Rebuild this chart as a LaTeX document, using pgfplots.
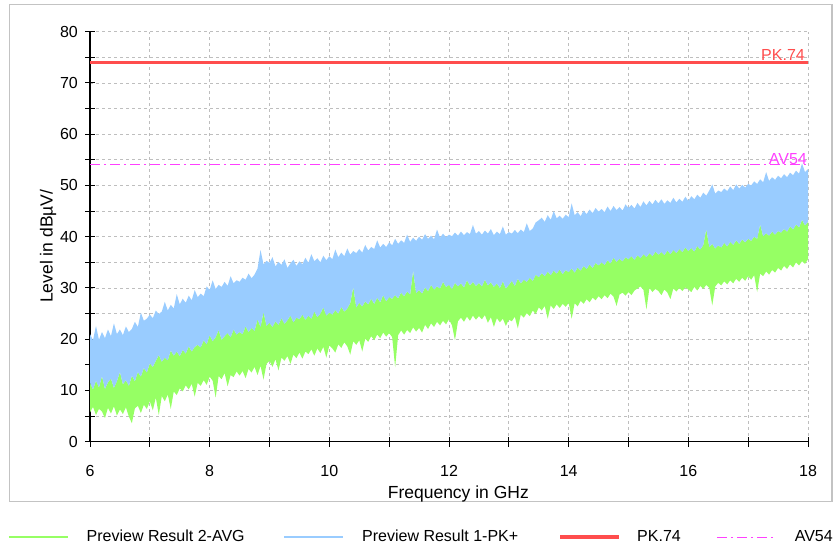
\documentclass[border=0pt]{standalone}
\usepackage{fontspec}
\setmainfont{Liberation Sans}
\usepackage{pgfplots}
\pgfplotsset{compat=1.18}
\usepackage{pgfplotstable}

\definecolor{pkfill}{RGB}{153,204,255}
\definecolor{avfill}{RGB}{150,255,100}
\definecolor{pkline}{RGB}{255,77,77}
\definecolor{avline}{RGB}{255,64,255}
\definecolor{framegray}{RGB}{195,195,195}
\definecolor{gridgray}{RGB}{190,190,190}

% x = frequency (GHz), ph = PK+ upper edge, ah / al = AVG upper / lower edge
\pgfplotstableread{
x     ph    ah    al
6.00  21.0  11.5  5.7
6.05  19.8  10.2  6.8
6.10  22.6  11.9  5.2
6.15  19.9  10.6  6.4
6.20  21.4  12.8  5.9
6.25  20.2  10.3  4.6
6.30  21.9  11.6  6.6
6.35  20.6  12.3  5.5
6.40  23.1  10.5  6.9
6.45  21.0  11.8  5.1
6.50  21.9  13.6  6.3
6.55  20.8  11.2  5.4
6.60  22.5  12.0  6.7
6.65  21.4  10.9  4.9
6.70  22.0  12.9  3.6
6.75  23.4  11.8  6.5
6.80  22.4  13.6  7.0
6.85  25.2  12.7  5.6
6.90  23.6  14.4  7.2
6.95  24.0  13.5  6.4
7.00  24.8  15.3  7.9
7.05  24.1  14.6  6.1
7.10  25.6  15.8  8.6
7.15  24.9  16.9  5.2
7.20  25.4  15.6  8.9
7.25  27.3  16.4  7.9
7.30  25.6  15.9  9.2
7.35  26.7  17.8  6.4
7.40  26.0  16.8  9.8
7.45  28.8  17.6  9.1
7.50  26.8  16.7  10.4
7.55  27.9  17.9  9.8
7.60  27.1  17.2  11.0
7.65  28.5  18.6  10.2
7.70  27.6  17.6  11.3
7.75  29.6  18.5  8.8
7.80  28.2  18.9  11.5
7.85  28.9  18.4  10.9
7.90  28.4  19.8  12.0
7.95  30.3  19.0  11.1
8.00  29.6  20.8  12.7
8.05  31.5  19.6  11.9
8.10  29.8  20.4  8.6
8.15  30.6  21.8  12.8
8.20  30.2  19.9  12.2
8.25  31.2  20.6  13.4
8.30  30.4  21.2  10.8
8.35  32.3  20.4  13.0
8.40  30.9  21.9  12.6
8.45  31.5  20.9  13.7
8.50  31.2  21.4  12.9
8.55  32.0  21.0  13.8
8.60  31.6  22.5  12.4
8.65  32.8  21.4  14.2
8.70  31.9  22.2  13.5
8.75  32.6  21.6  14.6
8.80  33.8  23.9  13.0
8.85  37.4  22.4  14.8
8.90  34.6  25.3  12.1
8.95  35.3  22.6  15.2
9.00  34.9  23.2  15.8
9.05  36.0  22.4  14.6
9.10  34.2  23.5  16.1
9.15  35.1  22.8  13.9
9.20  34.5  24.1  16.4
9.25  35.6  23.0  15.8
9.30  33.9  23.7  16.7
9.35  34.8  24.6  15.2
9.40  35.5  23.3  17.0
9.45  34.3  24.2  16.3
9.50  35.2  23.9  17.4
9.55  34.6  24.8  16.2
9.60  35.9  23.8  17.6
9.65  34.9  24.6  17.1
9.70  36.6  24.0  18.0
9.75  35.2  25.4  16.8
9.80  35.8  24.3  18.2
9.85  35.0  25.0  17.3
9.90  36.3  26.2  18.5
9.95  35.4  24.6  16.4
10.00 36.2  25.2  18.8
10.05 35.6  24.8  18.2
10.10 37.5  25.7  17.4
10.15 36.0  25.0  19.0
10.20 36.9  26.3  18.3
10.25 36.2  25.4  19.4
10.30 37.7  26.0  18.6
10.35 36.5  27.1  17.0
10.40 37.2  30.2  19.6
10.45 36.8  26.2  18.9
10.50 37.6  27.1  19.8
10.55 36.9  26.4  17.6
10.60 38.4  27.4  20.1
10.65 37.3  26.8  19.5
10.70 38.0  27.9  20.6
10.75 37.6  26.9  19.8
10.80 39.3  28.1  20.9
10.85 37.9  27.2  20.2
10.90 38.6  28.6  21.3
10.95 38.0  27.4  20.5
11.00 38.9  28.2  21.2
11.05 38.3  27.9  20.4
11.10 39.6  28.6  14.5
11.15 38.6  28.0  20.8
11.20 39.3  29.1  21.7
11.25 38.8  28.4  20.9
11.30 40.4  29.3  21.8
11.35 39.0  28.7  21.2
11.40 39.8  33.4  22.3
11.45 39.2  29.0  21.5
11.50 40.0  29.6  22.2
11.55 39.4  28.9  21.3
11.60 40.5  30.1  22.8
11.65 39.6  29.4  22.0
11.70 40.2  30.6  23.1
11.75 39.5  29.7  22.4
11.80 41.4  30.3  23.4
11.85 39.8  29.9  22.7
11.90 40.6  31.2  23.6
11.95 39.9  30.2  22.9
12.00 40.4  30.6  23.9
12.05 40.1  29.8  22.7
12.10 40.8  31.0  19.8
12.15 40.2  30.3  23.5
12.20 41.0  30.9  24.2
12.25 40.3  30.1  23.4
12.30 40.9  31.5  24.4
12.35 40.5  30.5  23.6
12.40 42.3  31.2  24.6
12.45 40.6  30.4  23.8
12.50 41.1  31.0  24.5
12.55 40.4  30.3  23.9
12.60 41.2  31.6  24.7
12.65 40.6  30.5  23.2
12.70 41.5  31.1  24.3
12.75 40.3  30.2  22.4
12.80 41.0  30.9  24.1
12.85 40.5  30.0  23.3
12.90 42.0  31.3  24.0
12.95 40.4  29.9  22.6
13.00 40.9  30.6  23.8
13.05 40.6  31.4  23.5
13.10 41.3  30.4  24.4
13.15 40.7  31.8  22.1
13.20 41.4  30.9  24.8
13.25 40.9  31.6  24.2
13.30 42.6  31.2  25.1
13.35 41.1  32.0  24.5
13.40 41.6  31.4  25.6
13.45 42.8  32.6  24.9
13.50 43.2  32.1  26.2
13.55 43.7  32.9  25.6
13.60 42.9  32.3  26.5
13.65 44.2  33.2  24.0
13.70 43.3  32.5  26.6
13.75 45.0  33.4  25.9
13.80 43.6  32.8  26.8
13.85 44.1  33.6  26.1
13.90 43.5  32.7  26.9
13.95 44.3  33.5  26.3
14.00 43.8  33.1  27.1
14.05 46.5  33.8  24.0
14.10 44.2  33.0  27.0
14.15 44.8  34.0  26.4
14.20 44.0  33.4  27.5
14.25 45.1  34.3  26.9
14.30 44.4  33.7  27.8
14.35 45.3  34.6  27.2
14.40 44.6  33.9  28.1
14.45 45.6  34.9  27.6
14.50 44.9  34.4  28.4
14.55 45.4  35.0  27.8
14.60 44.8  34.5  28.6
14.65 45.9  35.4  28.0
14.70 45.0  34.8  28.9
14.75 46.0  35.9  28.3
14.80 45.2  35.1  26.5
14.85 45.8  35.7  28.7
14.90 45.1  35.2  29.1
14.95 46.3  36.0  28.5
15.00 45.6  35.6  29.2
15.05 46.2  36.2  28.6
15.10 45.5  35.5  29.5
15.15 46.6  36.4  29.9
15.20 45.8  35.8  30.3
15.25 46.9  36.6  29.6
15.30 46.1  36.0  25.8
15.35 47.0  36.8  30.0
15.40 46.3  36.2  29.2
15.45 47.2  37.1  29.8
15.50 46.5  36.5  29.4
15.55 47.3  37.0  28.6
15.60 46.4  36.4  29.7
15.65 47.1  37.3  29.1
15.70 46.6  36.6  27.8
15.75 47.6  37.4  29.9
15.80 46.7  36.8  29.3
15.85 47.4  37.6  30.0
15.90 46.8  37.0  29.4
15.95 47.8  37.9  30.1
16.00 47.0  37.2  29.7
16.05 47.9  37.8  29.2
16.10 47.3  37.1  30.2
16.15 48.2  38.2  29.5
16.20 47.6  37.5  30.4
16.25 48.6  38.4  29.8
16.30 48.0  41.5  30.6
16.35 49.0  38.0  30.0
16.40 50.2  38.6  26.6
16.45 48.4  37.7  30.3
16.50 49.0  38.3  31.0
16.55 48.7  37.9  30.5
16.60 49.4  38.8  31.3
16.65 48.9  38.1  30.7
16.70 49.8  39.0  31.5
16.75 49.1  38.4  30.9
16.80 50.2  39.3  31.8
16.85 49.4  38.6  31.2
16.90 50.1  39.5  32.0
16.95 49.6  38.9  31.4
17.00 50.3  39.6  32.3
17.05 50.0  39.2  31.6
17.10 50.8  40.0  32.5
17.15 50.3  39.6  29.2
17.20 51.2  42.4  32.8
17.25 50.6  40.1  32.3
17.30 52.6  40.7  33.2
17.35 50.9  40.2  32.6
17.40 51.6  41.0  33.5
17.45 51.1  40.4  33.0
17.50 51.9  41.1  33.9
17.55 51.4  40.8  33.4
17.60 52.2  41.5  34.3
17.65 51.6  41.0  33.7
17.70 52.5  42.0  34.6
17.75 52.0  41.4  34.0
17.80 52.9  42.4  35.0
17.85 52.3  41.8  34.4
17.90 54.3  43.3  35.2
17.95 52.6  42.2  34.7
18.00 53.2  42.9  35.6
}\spectrum

\begin{document}
\fontsize{16}{19}\selectfont
\begin{tikzpicture}
\path[use as bounding box] (0pt,0pt) rectangle (835pt,-554pt);
\draw[framegray, line width=1.5pt] (9.5pt,-4.5pt) rectangle (832pt,-501.5pt);
\begin{axis}[
    at={(90pt,-441.7pt)}, anchor=south west,
    width=718pt, height=410pt, scale only axis,
    xmin=6, xmax=18, ymin=0, ymax=80,
    axis x line=bottom, axis y line=left,
    x axis line style={-}, y axis line style={-},
    axis line style={black, line width=1.3pt},
    tick style={black, line width=1pt},
    tick align=center, major tick length=10pt,
    xtick={6,7,...,18},
    xticklabels={6,,8,,10,,12,,14,,16,,18},
    ytick={0,5,...,80},
    yticklabels={0,,10,,20,,30,,40,,50,,60,,70,,80},
    /pgf/number format/assume math mode=true,
    xticklabel style={anchor=base, inner sep=0pt, yshift=-29.5pt},
    yticklabel style={anchor=east, inner sep=0pt, xshift=-7pt},
    grid=major,
    major grid style={gridgray, line width=0.8pt, dash pattern=on 3pt off 3pt},
    xlabel={Frequency in GHz},
    ylabel={Level in dBµV/},
    xlabel style={at={(axis description cs:0.513,-0.139)}, anchor=base, inner sep=0pt,
        font=\fontsize{17.5}{21}\selectfont},
    ylabel style={at={(axis description cs:-0.052,0.477)}, anchor=base, inner sep=0pt,
        font=\fontsize{17.5}{21}\selectfont},
    legend columns=4,
    legend cell align=left,
    legend image code/.code={\draw[#1] (0pt,0pt) -- (59pt,0pt);},
    legend style={
        at={(axis description cs:-0.1142,-0.2325)}, anchor=west,
        draw=none, fill=none, inner sep=0pt,
        nodes={inner sep=0pt},
        /tikz/column 1/.style={column sep=18pt},
        /tikz/column 2/.style={column sep=39pt},
        /tikz/column 3/.style={column sep=18pt},
        /tikz/column 4/.style={column sep=40pt},
        /tikz/column 5/.style={column sep=16pt},
        /tikz/column 6/.style={column sep=36pt},
        /tikz/column 7/.style={column sep=18pt},
    },
]

\addlegendimage{avfill, line width=1.5pt}
\addlegendentry{Preview Result 2-AVG}
\addlegendimage{pkfill, line width=1.5pt}
\addlegendentry{Preview Result 1-PK+}
\addlegendimage{pkline, line width=4pt}
\addlegendentry{PK.74}
\addlegendimage{avline, line width=1pt, dash pattern=on 10pt off 4pt on 2pt off 4pt}
\addlegendentry{AV54}

% stacked bands: AVG between al and ah, PK+ between ah and ph
\addplot[draw=none, fill=none, stack plots=y, forget plot]
    table[x=x, y=al] {\spectrum} \closedcycle;
\addplot[draw=none, fill=avfill, stack plots=y, forget plot]
    table[x=x, y expr=\thisrow{ah}-\thisrow{al}] {\spectrum} \closedcycle;
\addplot[draw=none, fill=pkfill, stack plots=y, forget plot]
    table[x=x, y expr=\thisrow{ph}-\thisrow{ah}] {\spectrum} \closedcycle;

\addplot[pkline, line width=3pt, forget plot] coordinates {(6,74) (18,74)};
\addplot[avline, line width=1pt, dash pattern=on 10pt off 4pt on 2pt off 4pt, forget plot]
    coordinates {(6,54) (18,54)};

\node[pkline, anchor=base east, inner sep=0pt, xshift=-3pt, yshift=1.5pt] at (axis cs:18,74) {PK.74};
\node[avline, anchor=base east, inner sep=0pt, xshift=-1pt, yshift=0.8pt] at (axis cs:18,54) {AV54};

\end{axis}
\end{tikzpicture}
\end{document}
